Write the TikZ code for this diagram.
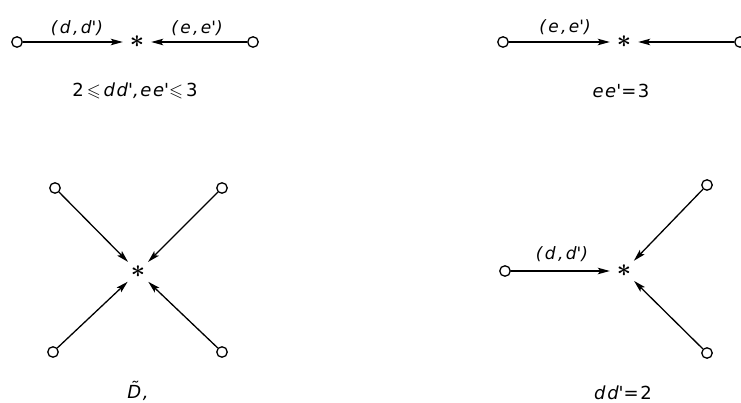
\documentclass[tikz,border=0pt]{standalone}
\usepackage{fontspec}
\usepackage{amssymb}
\setmainfont{DejaVu Sans}
\newfontfamily\labfont{DejaVu Sans}[LetterSpace=14]
\newfontfamily\capfont{DejaVu Sans}[LetterSpace=9]
\usetikzlibrary{arrows.meta}
\newcommand{\pr}{\textquotesingle}
\begin{document}
\begin{tikzpicture}[x=1pt,y=-1pt,
  vtx/.style={circle,draw,line width=1.3pt,minimum size=10.5pt,inner sep=0pt,fill=white},
  ctr/.style={circle,inner sep=0pt,minimum size=28pt,font=\fontsize{29}{29}\selectfont\boldmath},
  edge/.style={line width=1.3pt,-{Stealth[length=12pt,width=6.5pt,inset=2.5pt]}},
  lab/.style={font=\fontsize{17}{19}\selectfont\labfont\itshape,inner sep=0pt},
  captext/.style={font=\fontsize{18}{20}\selectfont\capfont,inner sep=0pt}]
\useasboundingbox (0,0) rectangle (741,403);
% top left
\node[vtx] (a1) at (17,42) {};
\node[ctr] (s1) at (137,42) {$\ast$};
\node[vtx] (a2) at (253,42) {};
\draw[edge] (a1) -- (s1);
\draw[edge] (a2) -- (s1);
\node[lab] (l1) at (77,28) {(d,d\pr)};
\node[lab] (l2) at (197,28) {(e,e\pr)};
\node[captext] (c1) at (135,91) {2$\,\leqslant\,${\itshape dd\pr,ee\pr}$\leqslant\,$3};
% top right
\node[vtx] (b1) at (503,42) {};
\node[ctr] (s2) at (624,42) {$\ast$};
\node[vtx] (b2) at (740,42) {};
\draw[edge] (b1) -- (s2);
\draw[edge] (b2) -- (s2);
\node[lab] (l3) at (565,27) {(e,e\pr)};
\node[captext] (c2) at (621,91) {{\itshape ee\pr}=3};
% bottom left
\node[ctr] (s3) at (138,272) {$\ast$};
\node[vtx] (d1) at (55,188) {};
\node[vtx] (d2) at (222,188) {};
\node[vtx] (d3) at (53,352) {};
\node[vtx] (d4) at (222,352) {};
\foreach \v in {d1,d2,d3,d4} \draw[edge] (\v) -- (s3);
\node[captext] (c3) at (138,391) {{\itshape \~{D},}};
% bottom right
\node[ctr] (s4) at (624,271) {$\ast$};
\node[vtx] (e1) at (505,271) {};
\node[vtx] (e2) at (707,185) {};
\node[vtx] (e3) at (707,353) {};
\foreach \v in {e1,e2,e3} \draw[edge] (\v) -- (s4);
\node[lab] (l4) at (562,254) {(d,d\pr)};
\node[captext] (c4) at (623,393) {{\itshape dd\pr}=2};
\end{tikzpicture}
\end{document}
